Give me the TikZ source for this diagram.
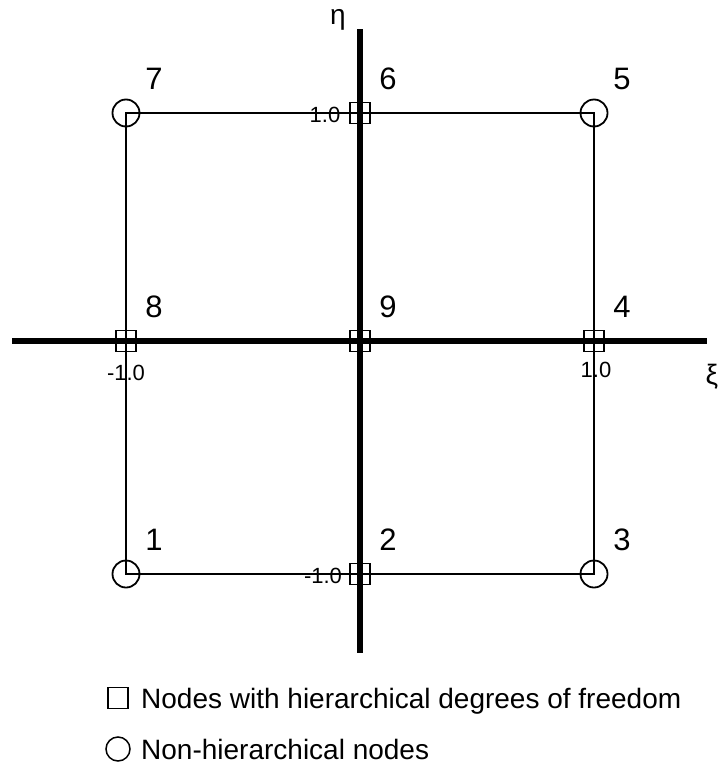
\documentclass[tikz,border=0pt]{standalone}
\usepackage{fontspec}
\setmainfont{Liberation Sans}
\usetikzlibrary{calc}

\tikzset{
  hnode/.style={draw, line width=1.8pt, minimum width=20pt, minimum height=21pt, inner sep=0pt},
  cnode/.style={draw, circle, line width=1.8pt, minimum size=27pt, inner sep=0pt},
  numlab/.style={font=\fontsize{31}{31}\selectfont, inner sep=0pt},
  ticklab/.style={font=\fontsize{22}{22}\selectfont, inner sep=0pt},
  legtext/.style={font=\fontsize{28}{28}\selectfont, anchor=base west, inner sep=0pt},
}

\begin{document}
\begin{tikzpicture}[x=1pt, y=-1pt]
    \useasboundingbox (0,0) rectangle (721,774);
    \coordinate (N1) at (126,574);
    \coordinate (N2) at (360,574);
    \coordinate (N3) at (594,574);
    \coordinate (N4) at (594,341);
    \coordinate (N5) at (594,113);
    \coordinate (N6) at (360,113);
    \coordinate (N7) at (126,113);
    \coordinate (N8) at (126,341);
    \coordinate (N9) at (360,341);
    \coordinate (XL) at (12,341);
    \coordinate (XR) at (707,341);
    \coordinate (YT) at (360,29);
    \coordinate (YB) at (360,653);
    
    \draw[line width=1.3pt] (N1) -- (N3) -- (N5) -- (N7) -- cycle; % element edges
    \draw[line width=5.5pt] (XL) -- (XR);
    \draw[line width=5.5pt] (YT) -- (YB);
    \foreach \p in {1,3,5,7} {\node[cnode] (c\p) at (N\p) {};}
    \foreach \p in {2,4,6,8,9} {\node[hnode] (s\p) at (N\p) {};}
    \foreach \p in {1,...,9} {\node[numlab] (l\p) at ($(N\p)+(28,-34)$) {\p};}
    
    \node[ticklab] (t6) at (325,115) {1.0};
    \node[ticklab] (t2) at (323,576) {-1.0};
    \node[ticklab] (t8) at (126,373) {-1.0};
    \node[ticklab] (t4) at (596,370) {1.0};
    \node[numlab, font=\fontsize{28}{28}\selectfont] (eta) at (338,20) {η};
    \node[numlab, font=\fontsize{28}{28}\selectfont] (xi) at (712,377) {ξ};
    
    % legend
    \node[hnode, line width=1.5pt] (leg1) at (118,698) {};
    \node[cnode, line width=1.5pt, minimum size=24pt] (leg2) at (118,749) {};
    \node[legtext] (txt1) at (141,708) {Nodes with hierarchical degrees of freedom};
    \node[legtext] (txt2) at (141,759) {Non-hierarchical nodes};
\end{tikzpicture}
\end{document}
